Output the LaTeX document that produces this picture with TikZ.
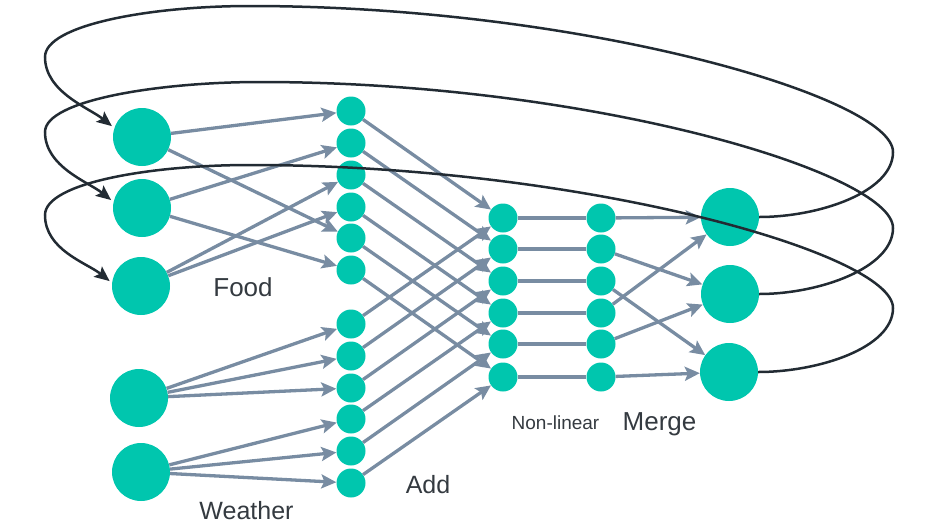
\documentclass[tikz,border=0pt]{standalone}
\usepackage{fontspec}
\setmainfont{Liberation Sans}
\usetikzlibrary{arrows.meta}
\definecolor{teal1}{RGB}{0,198,174}
\definecolor{linkgray}{RGB}{120,140,162}
\definecolor{loopdark}{RGB}{34,43,51}
\definecolor{txt}{RGB}{52,58,64}
\tikzset{
  bignode/.style={circle, fill=teal1, minimum size=58pt, inner sep=0pt},
  smallnode/.style={circle, fill=teal1, minimum size=29pt, inner sep=0pt},
  conn/.style={draw=linkgray, line width=3.3pt, -{Stealth[length=15pt,width=14pt,inset=3pt]}},
  plainconn/.style={draw=linkgray, line width=3.3pt},
  fback/.style={draw=loopdark, line width=2.5pt, -{Stealth[length=15pt,width=13pt,inset=3pt]}, shorten >=3pt},
  lbl/.style={text=txt, anchor=base, inner sep=0pt}
}
\begin{document}
\begin{tikzpicture}[x=1pt,y=-1pt]
\useasboundingbox (0,0) rectangle (928,531);

% nodes
\node[bignode] (F1) at (142,137) {};
\node[bignode] (F2) at (142,208) {};
\node[bignode] (F3) at (141,286) {};
\node[bignode] (W1) at (139,398) {};
\node[bignode] (W2) at (141,472) {};
\foreach \i/\y in {1/111,2/143,3/175,4/207,5/238,6/270}
  \node[smallnode] (A\i) at (351,\y) {};
\foreach \i/\y in {1/324,2/356,3/388,4/419,5/451,6/483}
  \node[smallnode] (B\i) at (351,\y) {};
\foreach \i/\y in {1/218,2/249,3/281,4/313,5/344,6/377}{
  \node[smallnode] (N\i) at (503,\y) {};
  \node[smallnode] (M\i) at (601,\y) {};
}
\node[bignode] (O1) at (730,217) {};
\node[bignode] (O2) at (730,294) {};
\node[bignode] (O3) at (729,372) {};

% input -> add
\draw[conn] (F1) -- (A1);
\draw[conn] (F1) -- (A5);
\draw[conn] (F2) -- (A2);
\draw[conn] (F2) -- (A6);
\draw[conn] (F3) -- (A3);
\draw[conn] (F3) -- (A4);
\draw[conn] (W1) -- (B1);
\draw[conn] (W1) -- (B2);
\draw[conn] (W1) -- (B3);
\draw[conn] (W2) -- (B4);
\draw[conn] (W2) -- (B5);
\draw[conn] (W2) -- (B6);

% add -> non-linear, non-linear -> merge
\foreach \i in {1,...,6}{
  \draw[conn] (A\i) -- (N\i);
  \draw[conn] (B\i) -- (N\i);
  \draw[plainconn] (N\i) -- (M\i);
}

% merge -> output
\draw[conn] (M1) -- (O1);
\draw[conn] (M2) -- (O2);
\draw[conn] (M3) -- (O3);
\draw[conn] (M4) -- (O1);
\draw[conn] (M5) -- (O2);
\draw[conn] (M6) -- (O3);

% feedback loops
\coordinate (R1) at (893,152);
\coordinate (T1) at (250,6);
\coordinate (L1) at (45,57);
\coordinate (R2) at (893,228);
\coordinate (T2) at (260,82);
\coordinate (L2) at (45,132);
\coordinate (R3) at (893,308);
\coordinate (T3) at (250,165);
\coordinate (L3) at (45,215);

\draw[fback] (O1.east) .. controls +(60,0) and +(0,40) .. (R1)
  .. controls +(0,-55) and +(330,0) .. (T1)
  .. controls +(-100,0) and +(0,-32) .. (L1)
  .. controls +(0,35) and +(-25,-20) .. (F1.162);
\draw[fback] (O2.east) .. controls +(60,0) and +(0,40) .. (R2)
  .. controls +(0,-55) and +(330,0) .. (T2)
  .. controls +(-100,0) and +(0,-32) .. (L2)
  .. controls +(0,35) and +(-25,-20) .. (F2.168);
\draw[fback] (O3.east) .. controls +(60,0) and +(0,40) .. (R3)
  .. controls +(0,-55) and +(330,0) .. (T3)
  .. controls +(-100,0) and +(0,-32) .. (L3)
  .. controls +(0,35) and +(-25,-20) .. (F3.174);

% labels
\node[lbl, font=\fontsize{26}{30}\selectfont] (food) at (243,296) {Food};
\node[lbl, font=\fontsize{25}{30}\selectfont] (weather) at (246.5,519) {Weather};
\node[lbl, font=\fontsize{25}{30}\selectfont] (add) at (428,493) {Add};
\node[lbl, font=\fontsize{19}{23}\selectfont] (nonlin) at (555.5,429) {Non-linear};
\node[lbl, font=\fontsize{26}{30}\selectfont] (merge) at (659.5,430) {Merge};
\end{tikzpicture}
\end{document}
